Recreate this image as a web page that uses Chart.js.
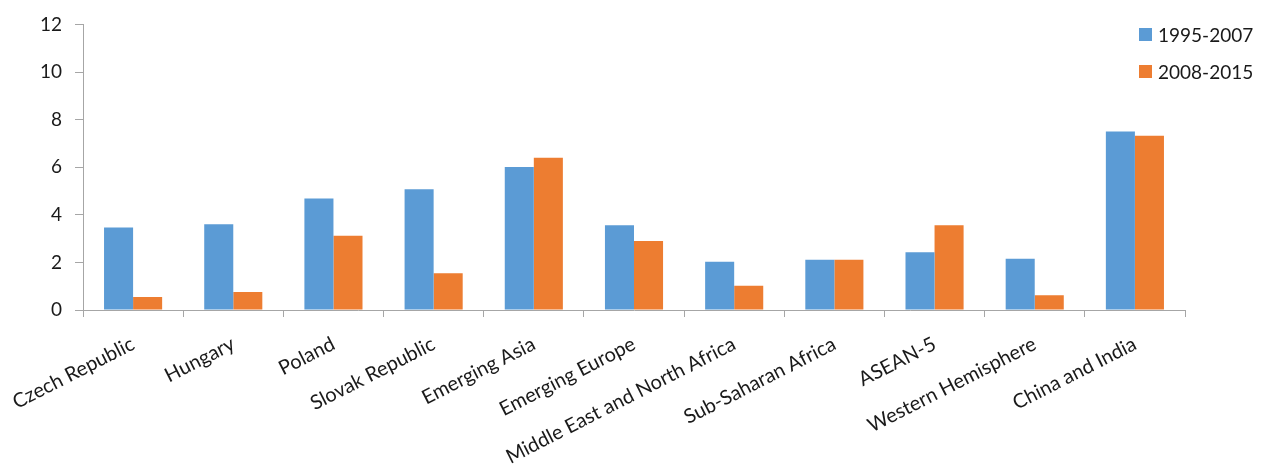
<!DOCTYPE html>
<html>
<head>
<meta charset="utf-8">
<script src="https://cdn.jsdelivr.net/npm/chart.js@4"></script>
<style>
    html, body { margin: 0; padding: 0; background: #fff; }
    #wrap { position: relative; width: 1267px; height: 472px; }
    #legend { position: absolute; left: 1139px; top: 16px; font-family: Lato, sans-serif; font-size: 19px; color: #1a1a1a; }
    .item { display: flex; align-items: center; height: 37px; }
    .swatch { width: 13px; height: 13px; margin-right: 6px; }
</style>
</head>
<body>
<div id="wrap">
    <canvas id="chart" width="1267" height="472"></canvas>
    <div id="legend"></div>
</div>
<script>
document.addEventListener('DOMContentLoaded', function() {
    // Data
    const categories = ['Czech Republic', 'Hungary', 'Poland', 'Slovak Republic', 'Emerging Asia',
        'Emerging Europe', 'Middle East and North Africa', 'Sub-Saharan Africa', 'ASEAN-5',
        'Western Hemisphere', 'China and India'];
    const period1Label = '1995-2007';
    const period2Label = '2008-2015';
    const period1 = [3.47, 3.6, 4.69, 5.07, 6.01, 3.56, 2.03, 2.11, 2.43, 2.15, 7.5];
    const period2 = [0.55, 0.76, 3.12, 1.54, 6.4, 2.9, 1.02, 2.11, 3.56, 0.62, 7.32];
    const yTicks = [0, 2, 4, 6, 8, 10, 12];

    const blue = '#5B9BD5';
    const orange = '#ED7D31';
    const axisColor = '#a6a6a6';
    const textColor = '#1a1a1a';

    const ctx = document.getElementById('chart').getContext('2d');
    const chart = new Chart(ctx, {
        type: 'bar',
        data: {
            labels: categories,
            datasets: [
                { label: period1Label, data: period1, backgroundColor: blue },
                { label: period2Label, data: period2, backgroundColor: orange }
            ]
        },
        options: {
            responsive: false,
            animation: false,
            layout: { padding: { top: 20, right: 82, left: 0, bottom: 0 } },
            datasets: {
                bar: { categoryPercentage: 0.58, barPercentage: 1.0 }
            },
            scales: {
                x: {
                    grid: {
                        display: true,
                        drawOnChartArea: false,
                        offset: true,
                        color: axisColor,
                        tickLength: 7
                    },
                    border: { color: axisColor, width: 1 },
                    ticks: {
                        color: textColor,
                        font: { family: 'Lato', size: 20 },
                        minRotation: 27,
                        maxRotation: 27,
                        autoSkip: false,
                        padding: 15
                    },
                    afterFit: function(scale) {
                        scale.height = 162;
                        // keep the plot left edge fixed, labels may run into the margin
                        scale.paddingLeft = 0;
                        scale.paddingRight = 0;
                    }
                },
                y: {
                    min: yTicks[0],
                    max: yTicks[yTicks.length - 1],
                    grid: {
                        display: true,
                        drawOnChartArea: false,
                        color: axisColor,
                        tickLength: 8
                    },
                    border: { color: axisColor, width: 1 },
                    ticks: {
                        stepSize: yTicks[1] - yTicks[0],
                        color: textColor,
                        font: { family: 'Lato', size: 19 },
                        padding: 13
                    },
                    afterFit: function(scale) { scale.width = 83; }
                }
            },
            plugins: {
                legend: { display: false },
                tooltip: { enabled: false }
            }
        }
    });

    // Legend built from the datasets
    const legend = document.getElementById('legend');
    chart.data.datasets.forEach(ds => {
        const item = document.createElement('div');
        item.className = 'item';
        item.innerHTML = `<span class="swatch" style="background:${ds.backgroundColor}"></span><span>${ds.label}</span>`;
        legend.appendChild(item);
    });
});
</script>
</body>
</html>
